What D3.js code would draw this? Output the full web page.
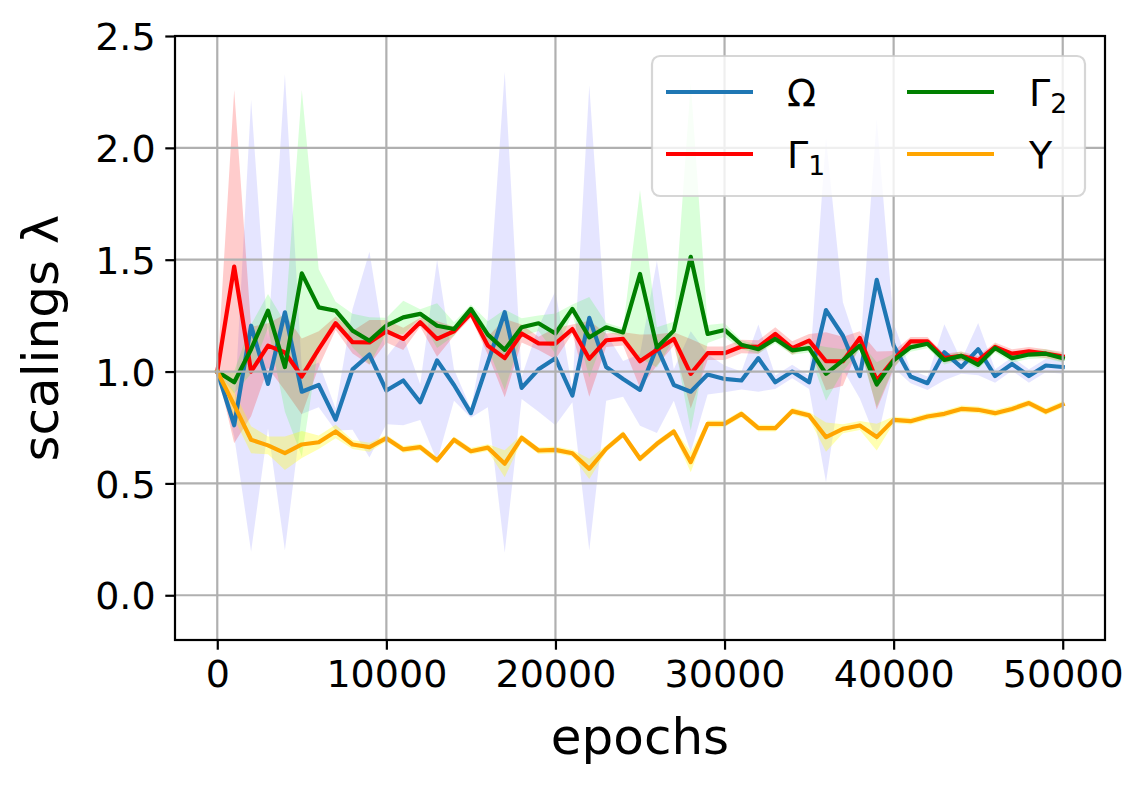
<!DOCTYPE html>
<html>
<head>
<meta charset="utf-8">
<script src="https://cdn.jsdelivr.net/npm/d3@7"></script>
<style>
  html, body { margin: 0; padding: 0; background: #ffffff; }
  svg { display: block; font-family: "DejaVu Sans", sans-serif; }
</style>
</head>
<body>
<svg id="chart" width="1148" height="786"></svg>
<script>
// ---------------- data ----------------
const epochs = [0,1000,2000,3000,4000,5000,6000,7000,8000,9000,10000,11000,12000,13000,14000,15000,16000,17000,18000,19000,20000,21000,22000,23000,24000,25000,26000,27000,28000,29000,30000,31000,32000,33000,34000,35000,36000,37000,38000,39000,40000,41000,42000,43000,44000,45000,46000,47000,48000,49000,50000];

const omegaMean = [1.0,0.76,1.205,0.945,1.265,0.91,0.94,0.785,1.01,1.076,0.915,0.96,0.863,1.05,0.94,0.814,1.04,1.265,0.927,1.01,1.06,0.893,1.24,1.02,0.967,0.918,1.11,0.94,0.91,0.987,0.967,0.96,1.06,0.952,1.0,0.952,1.275,1.16,0.98,1.41,1.116,0.978,0.948,1.086,1.02,1.10,0.98,1.034,0.98,1.027,1.02];
const omegaStd = [0,0.05,1.01,0.2,1.065,0.1,0.1,0.05,0.27,0.46,0.15,0.2,0.08,0.45,0.07,0.02,0.2,1.075,0.05,0.19,0.3,0.03,1.04,0.15,0.08,0.16,0.385,0.07,0.27,0.09,0.06,0.04,0.15,0.03,0.03,0.03,0.77,0.15,0.1,0.72,0.1,0.03,0.03,0.125,0.03,0.117,0.03,0.03,0.03,0.03,0.03];

const gamma1Mean = [1.0,1.469,1.0,1.116,1.085,0.978,1.10,1.216,1.131,1.13,1.18,1.146,1.22,1.146,1.18,1.26,1.116,1.06,1.17,1.126,1.125,1.19,1.057,1.14,1.146,1.046,1.097,1.146,0.99,1.082,1.082,1.112,1.11,1.168,1.105,1.138,1.046,1.046,1.15,0.96,1.052,1.135,1.135,1.06,1.07,1.05,1.11,1.08,1.09,1.08,1.067];
const gamma1Std = [0,0.79,0.2,0.1,0.17,0.17,0.08,0.03,0.05,0.1,0.05,0.05,0.02,0.08,0.02,0.02,0.04,0.175,0.04,0.03,0.07,0.02,0.17,0.03,0.03,0.12,0.07,0.03,0.155,0.03,0.03,0.03,0.03,0.03,0.03,0.03,0.13,0.11,0.03,0.13,0.04,0.02,0.02,0.02,0.02,0.02,0.02,0.02,0.02,0.02,0.02];

const gamma2Mean = [1.0,0.952,1.10,1.272,1.02,1.439,1.287,1.272,1.183,1.138,1.205,1.242,1.258,1.205,1.19,1.28,1.165,1.097,1.198,1.216,1.17,1.28,1.153,1.198,1.175,1.436,1.108,1.183,1.513,1.168,1.186,1.12,1.10,1.146,1.095,1.105,0.99,1.05,1.116,0.942,1.05,1.108,1.124,1.052,1.07,1.03,1.105,1.06,1.076,1.08,1.06];
const gamma2Std = [0,0.05,0.11,0.075,0.2,0.82,0.17,0.04,0.075,0.105,0.035,0.075,0.02,0.1,0.03,0.02,0.06,0.18,0.04,0.035,0.09,0.02,0.18,0.02,0.02,0.376,0.09,0.04,0.776,0.04,0.03,0.02,0.02,0.02,0.02,0.02,0.12,0.05,0.02,0.1,0.03,0.02,0.02,0.02,0.02,0.02,0.02,0.02,0.02,0.02,0.02];

const upsilonMean = [1.0,0.85,0.695,0.67,0.635,0.674,0.684,0.732,0.674,0.662,0.702,0.652,0.662,0.603,0.695,0.644,0.66,0.588,0.704,0.647,0.65,0.635,0.565,0.655,0.719,0.61,0.677,0.732,0.595,0.766,0.766,0.811,0.747,0.747,0.823,0.804,0.707,0.744,0.759,0.707,0.784,0.778,0.799,0.811,0.833,0.829,0.814,0.833,0.859,0.821,0.853];
const upsilonStd = [0,0.06,0.06,0.04,0.075,0.06,0.03,0.03,0.02,0.02,0.015,0.015,0.015,0.015,0.015,0.015,0.015,0.06,0.015,0.015,0.015,0.015,0.045,0.015,0.015,0.015,0.015,0.015,0.045,0.015,0.015,0.015,0.015,0.015,0.015,0.015,0.065,0.02,0.02,0.06,0.015,0.015,0.015,0.015,0.015,0.015,0.015,0.015,0.015,0.015,0.015];

const xTicks = [0,10000,20000,30000,40000,50000];
const yTicks = [0.0,0.5,1.0,1.5,2.0,2.5];
const yTickLabels = ["0.0","0.5","1.0","1.5","2.0","2.5"];
const xLabel = "epochs";
const yLabel = "scalings λ";

const seriesBase = ["Ω","Γ","Γ","Υ"];
const seriesSub = ["","1","2",""];
const seriesMeans = [omegaMean, gamma1Mean, gamma2Mean, upsilonMean];
const seriesStds = [omegaStd, gamma1Std, gamma2Std, upsilonStd];
const lineColors = ["#1f77b4","#ff0000","#008000","#ffa500"];
const bandColors = ["#0000ff","#ff0000","#00ff00","#ffff00"];
const bandAlphas = [0.1,0.2,0.15,0.3];

// ---------------- layout ----------------
const W = 1148, H = 786;
const L = 175, R = 1105, T = 36, B = 640;
const svg = d3.select("#chart");
svg.append("rect").attr("width", W).attr("height", H).attr("fill", "#fff");

const x = d3.scaleLinear().domain([-2500, 52500]).range([L, R]);
const y = d3.scaleLinear().domain([-0.2, 2.5]).range([B, T]);

svg.append("defs").append("clipPath").attr("id", "clip")
  .append("rect").attr("x", L).attr("y", T).attr("width", R - L).attr("height", B - T);

const plot = svg.append("g").attr("clip-path", "url(#clip)");

// bands
seriesMeans.forEach((m, k) => {
  const rows = epochs.map((e, i) => ({e, m: m[i], s: seriesStds[k][i]}));
  const area = d3.area().x(d => x(d.e)).y0(d => y(d.m - d.s)).y1(d => y(d.m + d.s));
  plot.append("path").datum(rows).attr("d", area)
    .attr("fill", bandColors[k]).attr("fill-opacity", bandAlphas[k]).attr("stroke", "none");
});

// grid
const grid = svg.append("g");
xTicks.forEach(t => grid.append("line").attr("x1", x(t)).attr("x2", x(t)).attr("y1", T).attr("y2", B)
  .attr("stroke", "#b0b0b0").attr("stroke-width", 2.2));
yTicks.forEach(t => grid.append("line").attr("x1", L).attr("x2", R).attr("y1", y(t)).attr("y2", y(t))
  .attr("stroke", "#b0b0b0").attr("stroke-width", 2.2));

// lines
seriesMeans.forEach((m, k) => {
  const rows = epochs.map((e, i) => ({e, m: m[i]}));
  const line = d3.line().x(d => x(d.e)).y(d => y(d.m));
  plot.append("path").datum(rows).attr("d", line)
    .attr("fill", "none").attr("stroke", lineColors[k]).attr("stroke-width", 4.2)
    .attr("stroke-linejoin", "round").attr("stroke-linecap", "square");
});

// frame
svg.append("rect").attr("x", L).attr("y", T).attr("width", R - L).attr("height", B - T)
  .attr("fill", "none").attr("stroke", "#000").attr("stroke-width", 2.2);

// axes
const fs = 38;
const xAxis = d3.axisBottom(x).tickValues(xTicks).tickSize(9.7).tickPadding(8).tickFormat(d3.format("d"));
const gx = svg.append("g").attr("transform", `translate(0,${B})`).call(xAxis);
gx.select(".domain").remove();
gx.selectAll(".tick line").attr("stroke", "#000").attr("stroke-width", 2.2);
gx.selectAll(".tick text").attr("font-size", fs).attr("fill", "#000").attr("font-family", "DejaVu Sans").attr("dy", "0.76em");

const yAxis = d3.axisLeft(y).tickValues(yTicks).tickSize(9.7).tickPadding(9.7).tickFormat((d, i) => yTickLabels[i]);
const gy = svg.append("g").attr("transform", `translate(${L},0)`).call(yAxis);
gy.select(".domain").remove();
gy.selectAll(".tick line").attr("stroke", "#000").attr("stroke-width", 2.2);
gy.selectAll(".tick text").attr("font-size", fs).attr("fill", "#000").attr("font-family", "DejaVu Sans").attr("dy", "0.36em");

// axis labels
svg.append("text").attr("x", (L + R) / 2).attr("y", 754).attr("text-anchor", "middle")
  .attr("font-size", 50).attr("fill", "#000").text(xLabel);
svg.append("text").attr("transform", `translate(58,${(T + B) / 2}) rotate(-90)`).attr("text-anchor", "middle")
  .attr("font-size", 50).attr("fill", "#000").text(yLabel);

// legend
const lg = svg.append("g");
lg.append("rect").attr("x", 652).attr("y", 56).attr("width", 433).attr("height", 140).attr("rx", 8).attr("ry", 8)
  .attr("fill", "#fff").attr("fill-opacity", 0.8).attr("stroke", "#cccccc").attr("stroke-opacity", 0.8).attr("stroke-width", 2.2);
const colX = [666, 907];
const textX = [787, 1029];
const rowY = [92, 154];
const order = [0, 1, 2, 3];
order.forEach((k, idx) => {
  const c = Math.floor(idx / 2), r = idx % 2;
  lg.append("line").attr("x1", colX[c]).attr("x2", colX[c] + 87).attr("y1", rowY[r]).attr("y2", rowY[r])
    .attr("stroke", lineColors[k]).attr("stroke-width", 4.2);
  const t = lg.append("text").attr("x", textX[c]).attr("y", rowY[r] + 14).attr("font-size", fs).attr("fill", "#000");
  t.append("tspan").text(seriesBase[k]);
  if (seriesSub[k]) t.append("tspan").attr("font-size", fs * 0.7).attr("dy", 7).text(seriesSub[k]);
});
</script>
</body>
</html>
